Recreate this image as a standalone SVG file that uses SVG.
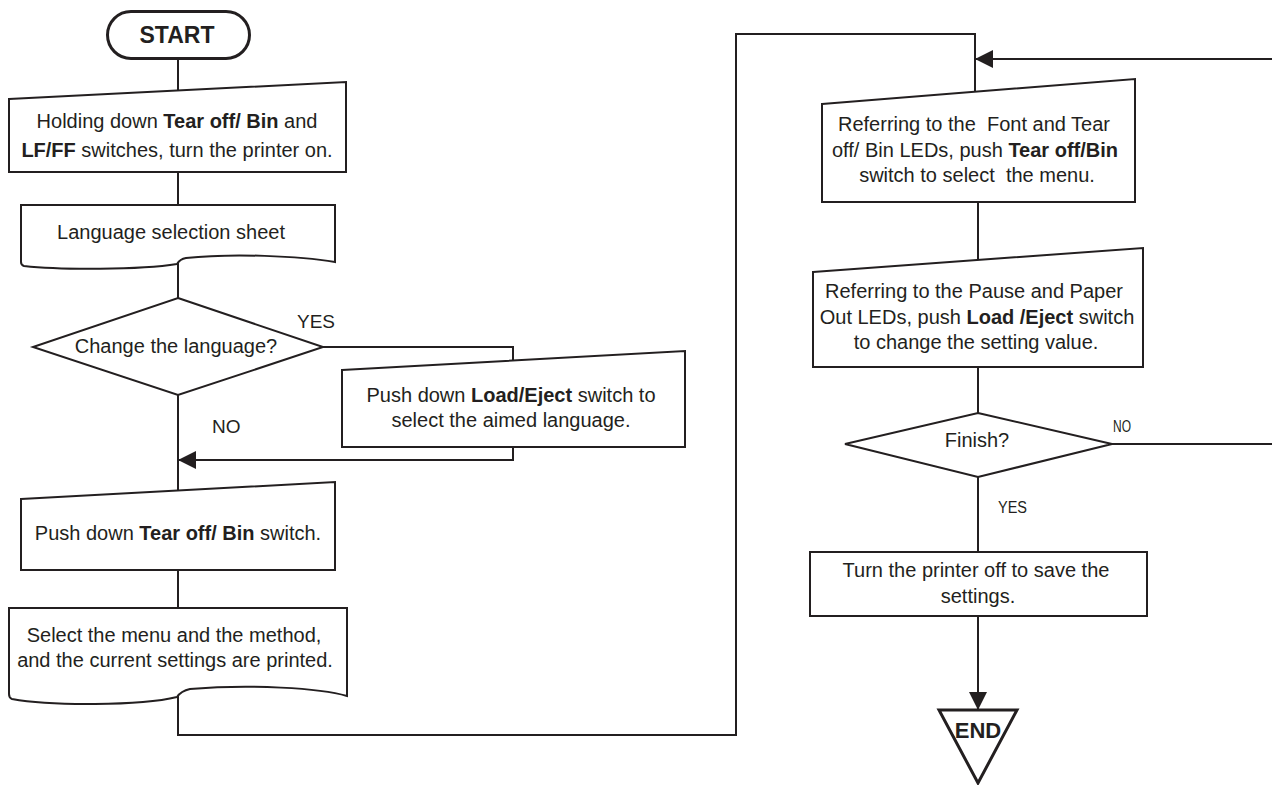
<svg xmlns="http://www.w3.org/2000/svg" width="1272" height="785" viewBox="0 0 1272 785">
<defs>
<style>
.shape{fill:#fff;stroke:#231f20;stroke-width:2;stroke-linejoin:miter}
.conn{fill:none;stroke:#231f20;stroke-width:2}
.t{font-family:"Liberation Sans",Arial,sans-serif;font-size:20px;fill:#231f20;text-anchor:middle}
.b{font-weight:bold}
.pre{white-space:pre}
.lbl{font-family:"Liberation Sans",Arial,sans-serif;font-size:19px;fill:#231f20}
.nlbl{font-family:"Liberation Sans",Arial,sans-serif;font-size:16px;fill:#231f20}
</style>
<marker id="arr" viewBox="0 0 18 18" refX="18" refY="9" markerWidth="18" markerHeight="18" markerUnits="userSpaceOnUse" orient="auto">
<path d="M0,0 L18,9 L0,18 Z" fill="#231f20"/>
</marker>
</defs>
<g id="connectors">
<path class="conn" d="M178,58 V92"/>
<path class="conn" d="M178,172 V206"/>
<path class="conn" d="M178,263 V298"/>
<path class="conn" d="M323,347 H513 V361"/>
<path class="conn" d="M513,447 V460 H178" marker-end="url(#arr)"/>
<path class="conn" d="M178,395 V491"/>
<path class="conn" d="M178,570 V609"/>
<path class="conn" d="M178,696 V735 H736 V34 H975 V93"/>
<path class="conn" d="M1112,444 H1275 V59 H975" marker-end="url(#arr)"/>
<path class="conn" d="M978,202 V261"/>
<path class="conn" d="M978,367 V413"/>
<path class="conn" d="M978,477 V552"/>
<path class="conn" d="M978,616 V710" marker-end="url(#arr)"/>
<text class="lbl" x="297" y="328">YES</text>
<text class="lbl" x="212" y="433">NO</text>
<text class="nlbl" x="1113" y="432" textLength="18" lengthAdjust="spacingAndGlyphs">NO</text>
<text class="nlbl" x="998" y="513" textLength="29" lengthAdjust="spacingAndGlyphs">YES</text>
</g>
<g id="start">
<rect x="107.5" y="11.5" width="142" height="47" rx="23.5" fill="#fff" stroke="#231f20" stroke-width="3"/>
<text class="t b" x="177" y="43" style="font-size:23px">START</text>
</g>
<g id="hold-switches">
<polygon class="shape" points="9,99 346,82 346,172 9,172"/>
<text class="t" x="177" y="128">Holding down <tspan class="b">Tear off/ Bin</tspan> and</text>
<text class="t" x="177" y="157"><tspan class="b">LF/FF</tspan> switches, turn the printer on.</text>
</g>
<g id="language-sheet">
<path class="shape" d="M21,205 H335 V262 C300,256 232,253 186,258 Q180,259 177,264 C140,270 60,270 24,266 Q21,265 21,262 Z"/>
<text class="t" x="171" y="239">Language selection sheet</text>
</g>
<g id="change-language">
<polygon class="shape" points="178,298 323,347 178,395 33,347"/>
<text class="t" x="176" y="353">Change the language?</text>
</g>
<g id="load-eject">
<polygon class="shape" points="342,370 685,351 685,447 342,447"/>
<text class="t" x="511" y="402">Push down <tspan class="b">Load/Eject</tspan> switch to</text>
<text class="t" x="511" y="427">select the aimed language.</text>
</g>
<g id="push-tear-off">
<polygon class="shape" points="21,499 335,482 335,570 21,570"/>
<text class="t" x="178" y="540">Push down <tspan class="b">Tear off/ Bin</tspan> switch.</text>
</g>
<g id="settings-printed">
<path class="shape" d="M9,608 H347 V696 C320,688 250,684 190,689 Q181,691 177,697 C140,706 50,706 12,699 Q9,698 9,694 Z"/>
<text class="t" x="174" y="642">Select the menu and the method,</text>
<text class="t" x="175" y="667">and the current settings are printed.</text>
</g>
<g id="select-menu">
<polygon class="shape" points="822,104 1135,79 1135,202 822,202"/>
<text class="t pre" x="974" y="131">Referring to the  Font and Tear</text>
<text class="t" x="975" y="157">off/ Bin LEDs, push <tspan class="b">Tear off/Bin</tspan></text>
<text class="t pre" x="977" y="182">switch to select  the menu.</text>
</g>
<g id="change-value">
<polygon class="shape" points="813,272 1143,248 1143,367 813,367"/>
<text class="t" x="974" y="298">Referring to the Pause and Paper</text>
<text class="t" x="977" y="324">Out LEDs, push <tspan class="b">Load /Eject</tspan> switch</text>
<text class="t" x="976" y="349">to change the setting value.</text>
</g>
<g id="finish">
<polygon class="shape" points="978,413 1112,444 978,477 845,444"/>
<text class="t" x="977" y="447">Finish?</text>
</g>
<g id="turn-off">
<rect class="shape" x="810" y="552" width="337" height="64"/>
<text class="t" x="976" y="577">Turn the printer off to save the</text>
<text class="t" x="978" y="603">settings.</text>
</g>
<g id="end">
<polygon points="939,710 1017,710 978,783" fill="#fff" stroke="#231f20" stroke-width="3" stroke-linejoin="miter"/>
<text class="t b" x="978" y="738" style="font-size:22px">END</text>
</g>
</svg>
